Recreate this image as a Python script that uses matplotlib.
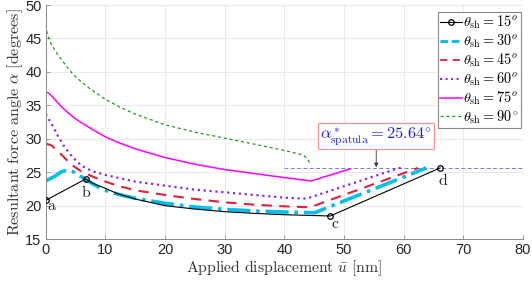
import matplotlib
matplotlib.use('Agg')
import matplotlib.pyplot as plt
from matplotlib.lines import Line2D

plt.rcParams['font.family'] = ['Liberation Sans', 'DejaVu Sans']
plt.rcParams['mathtext.fontset'] = 'cm'

# data
x15 = [0, 6.7, 8, 10, 12, 15, 20, 25, 30, 35, 40, 44, 47.7, 66.1]
y15 = [20.8, 24.0, 23.3, 22.6, 21.8, 21.0, 20.0, 19.5, 19.1, 18.85, 18.65, 18.55, 18.46, 25.64]

x30 = [0, 1.5, 2.7, 3.6, 4.5, 5.5, 6.7, 8, 9.8, 12.6, 15, 20, 25, 30, 35, 40, 45.1, 63.8]
y30 = [23.7, 24.4, 25.1, 25.34, 25.1, 24.6, 23.9, 23.2, 22.35, 21.6, 21.1, 20.35, 19.8, 19.45, 19.2, 19.05, 18.95, 25.64]

x45 = [0, 1, 2, 3, 4, 5, 6, 7, 8, 10, 12, 15, 20, 25, 30, 35, 40, 44.3, 62.4]
y45 = [29.3, 29.0, 28.2, 27.3, 26.4, 25.7, 25.1, 24.7, 24.3, 23.6, 23.0, 22.3, 21.6, 21.0, 20.5, 20.15, 19.9, 19.76, 25.64]

x60 = [0, 1, 2, 3, 4, 5, 6, 7, 8, 10, 12, 15, 20, 25, 30, 35, 40, 43.7, 59.1, 59.8]
y60 = [33.7, 32.2, 30.5, 29.0, 27.8, 26.8, 26.0, 25.5, 25.1, 24.6, 24.2, 23.6, 23.0, 22.4, 22.0, 21.6, 21.2, 21.05, 25.6, 25.7]

x75 = [0, 0.5, 1, 2, 3, 4, 5, 6, 8, 10, 12, 15, 20, 25, 30, 35, 40, 44.5, 51]
y75 = [37.0, 36.85, 36.4, 35.4, 34.5, 33.7, 33.0, 32.4, 31.3, 30.3, 29.5, 28.5, 27.2, 26.2, 25.4, 24.8, 24.2, 23.7, 25.5]

x90 = [0, 0.3, 1, 2, 3, 4.6, 6, 7.4, 10, 12.5, 15, 20, 25, 30, 35, 39.8, 43.1, 43.8, 44.3]
y90 = [47.0, 45.5, 44.0, 42.6, 41.4, 39.6, 38.5, 37.5, 35.9, 34.7, 33.7, 32.1, 31.0, 30.1, 29.2, 28.3, 27.6, 27.1, 26.3]

alpha_star = 25.64
point_idx = [0, 1, 12, 13]
point_names = ['a', 'b', 'c', 'd']
point_offsets = [(4.5, -3.5), (0, -9.5), (3.8, -5.5), (2, -9)]  # points

fig = plt.figure(figsize=(5.32, 2.81), dpi=100)
ax = fig.add_axes([0.086, 0.149, 0.897, 0.833])

ax.plot(x15, y15, '-', color='k', lw=0.8, marker='o', markevery=point_idx,
        ms=4, mfc='none', mew=0.9, zorder=6)
ax.plot(x30, y30, '-.', color='#00bfee', lw=2.6)
ax.plot(x45, y45, '--', color='#e0203c', lw=1.5, dashes=(5, 3.5))
ax.plot(x60, y60, ':', color='#8a2be2', lw=1.6)
ax.plot(x75, y75, '-', color='#ff00ff', lw=1.1)
ax.plot(x90, y90, '--', color='#229922', lw=0.9, dashes=(2.5, 2.2))

ax.axhline(alpha_star, xmin=40/80, xmax=1, color='#7777ff', lw=0.7, ls='--', dashes=(4, 2.5), zorder=1)

for i, name, off in zip(point_idx, point_names, point_offsets):
    ax.annotate(r'$\mathrm{%s}$' % name, (x15[i], y15[i]), xytext=off, textcoords='offset points',
                ha='center', va='center', fontsize=11.5, color='#222222')

ax.annotate(r'$\alpha^*_{\rm spatula} = 25.64^{\circ}$', xy=(55.4, alpha_star + 0.1), xytext=(55.4, 28.8),
            ha='center', va='bottom', fontsize=11.8, color='#1a1aee',
            bbox=dict(boxstyle='square,pad=0.12', fc='white', ec='#ff9090', lw=0.8),
            arrowprops=dict(arrowstyle='-|>', color='#333333', lw=0.6, mutation_scale=6, shrinkA=0, shrinkB=0))

ax.set_xlim(0, 80)
ax.set_ylim(15, 50)
ax.set_xticks(range(0, 81, 10))
ax.set_yticks(range(15, 51, 5))
ax.grid(True, color='#e6e6e6', lw=0.6)
ax.set_axisbelow(True)
for s in ['top', 'right']:
    ax.spines[s].set_visible(False)
for s in ['left', 'bottom']:
    ax.spines[s].set_color('#888888')
    ax.spines[s].set_linewidth(0.7)
ax.tick_params(direction='in', length=3, width=0.6, colors='#888888', labelcolor='#262626',
               labelsize=10.5, pad=3)

ax.set_xlabel(r'$\mathrm{Applied\ displacement}\ \bar{u}\ \mathrm{[nm]}$', fontsize=11.3, color='#333333', labelpad=1)
ax.set_ylabel(r'$\mathrm{Resultant\ force\ angle}\ \alpha\ \mathrm{[degrees]}$', fontsize=11.6, color='#333333', labelpad=0)

handles = [
    Line2D([], [], color='k', lw=0.8, marker='o', ms=4, mfc='none', mew=0.9),
    Line2D([], [], color='#00bfee', lw=2.2, ls='--', dashes=(2.5, 1.2)),
    Line2D([], [], color='#e0203c', lw=1.3, ls='--', dashes=(4, 3)),
    Line2D([], [], color='#8a2be2', lw=1.5, ls=':'),
    Line2D([], [], color='#ff00ff', lw=1.1),
    Line2D([], [], color='#229922', lw=0.9, ls='--', dashes=(2.5, 2.2)),
]
labels = [r'$\theta_{\rm sh} = 15^o$', r'$\theta_{\rm sh} = 30^o$', r'$\theta_{\rm sh} = 45^o$',
          r'$\theta_{\rm sh} = 60^o$', r'$\theta_{\rm sh} = 75^o$', r'$\theta_{\rm sh} = 90^\circ$']
leg = ax.legend(handles, labels, loc='upper right', bbox_to_anchor=(0.999, 0.975), fontsize=10.3,
                labelspacing=0.1, handlelength=1.5, handletextpad=0.1, borderpad=0.12,
                borderaxespad=0.1, fancybox=False, framealpha=1, numpoints=1)
leg.get_frame().set_edgecolor('#888888')
leg.get_frame().set_linewidth(0.8)

fig.savefig('out.png', dpi=100)
